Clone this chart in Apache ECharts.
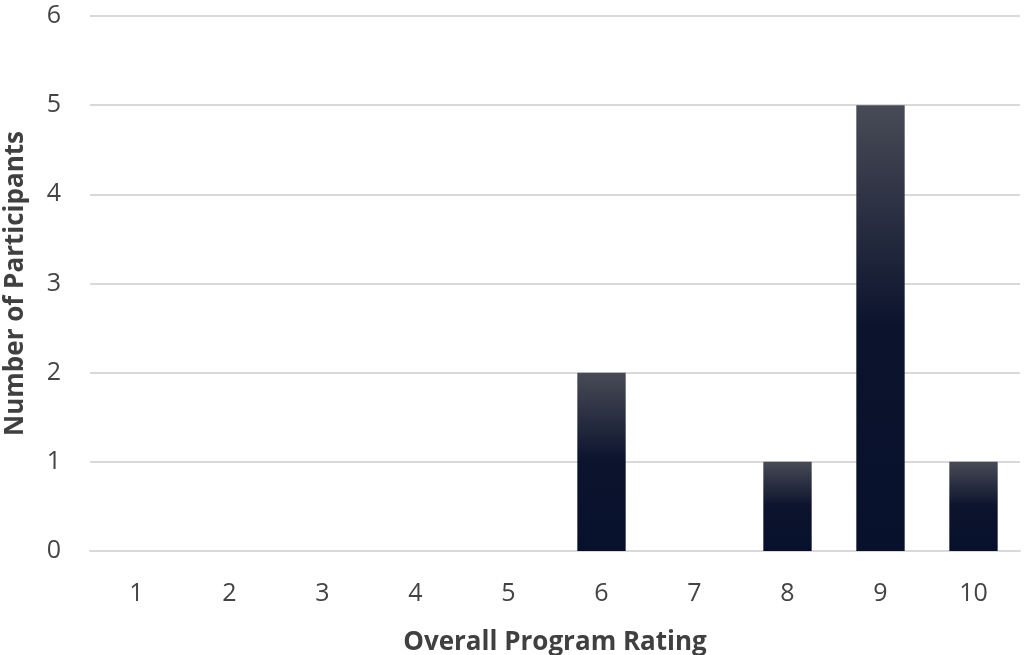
<!DOCTYPE html>
<html>
<head>
<meta charset="utf-8">
<script src="https://cdn.jsdelivr.net/npm/echarts@6/dist/echarts.min.js"></script>
<style>
  html, body { margin: 0; padding: 0; background: #ffffff; }
  #chart { width: 1025px; height: 655px; }
</style>
</head>
<body>
<div id="chart"></div>
<script>
// Rating categories and number of participants giving each rating
const ratings = ['1', '2', '3', '4', '5', '6', '7', '8', '9', '10'];
const participants = [0, 0, 0, 0, 0, 2, 0, 1, 5, 1];
const yTicks = [0, 1, 2, 3, 4, 5, 6];

const chart = echarts.init(document.getElementById('chart'), null, { renderer: 'canvas' });

const fontFamily = '"Open Sans", "Noto Sans", sans-serif';
const textColor = '#444444';
const titleColor = '#404040';
const gridColor = '#d9d9d9';

chart.setOption({
  animation: false,
  grid: { left: 90, right: 5, top: 16, bottom: 104, containLabel: false, outerBoundsMode: 'none' },
  xAxis: {
    type: 'category',
    data: ratings,
    name: 'Overall Program Rating',
    nameLocation: 'middle',
    nameGap: 79,
    nameTextStyle: { fontFamily, fontSize: 26, fontWeight: 'bold', color: titleColor },
    axisLine: { show: true, lineStyle: { color: gridColor, width: 2 } },
    axisTick: { show: false },
    axisLabel: { fontFamily, fontSize: 25, color: textColor, margin: 30 }
  },
  yAxis: {
    type: 'value',
    min: yTicks[0],
    max: yTicks[yTicks.length - 1],
    interval: 1,
    name: 'Number of Participants',
    nameLocation: 'middle',
    nameGap: 61,
    nameTextStyle: { fontFamily, fontSize: 26, fontWeight: 'bold', color: titleColor },
    axisLine: { show: false },
    axisTick: { show: false },
    axisLabel: { fontFamily, fontSize: 25, color: textColor, margin: 29 },
    splitLine: { lineStyle: { color: gridColor, width: 2 } }
  },
  series: [{
    type: 'bar',
    data: participants,
    barCategoryGap: '48%',
    itemStyle: {
      color: new echarts.graphic.LinearGradient(0, 0, 0, 1, [
        { offset: 0, color: '#484b56' },
        { offset: 0.5, color: '#0b132d' },
        { offset: 1, color: '#08112b' }
      ])
    }
  }]
});
</script>
</body>
</html>
